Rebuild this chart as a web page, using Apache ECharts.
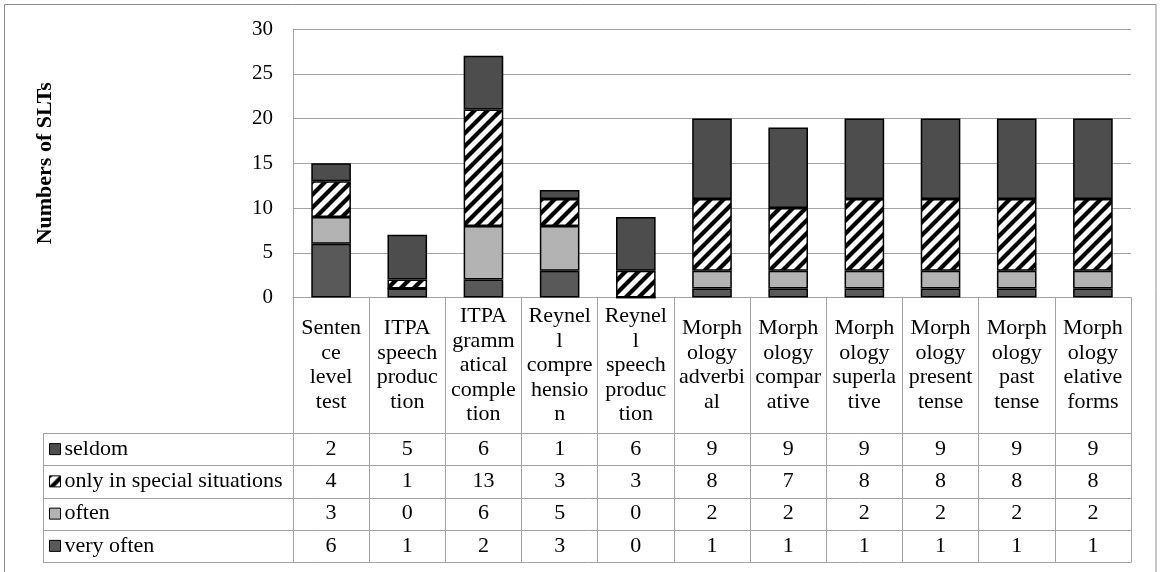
<!DOCTYPE html>
<html>
<head>
<meta charset="utf-8">
<script src="https://cdn.jsdelivr.net/npm/echarts@6/dist/echarts.min.js"></script>
<style>
  html, body { margin: 0; padding: 0; background: #fff; }
  #chart { width: 1160px; height: 572px; }
</style>
</head>
<body>
<div id="chart"></div>
<script>
// Category headers, as wrapped in the table cells
const categories = [
  'Senten\nce\nlevel\ntest',
  'ITPA\nspeech\nproduc\ntion',
  'ITPA\ngramm\natical\ncomple\ntion',
  'Reynel\nl\ncompre\nhensio\nn',
  'Reynel\nl\nspeech\nproduc\ntion',
  'Morph\nology\nadverbi\nal',
  'Morph\nology\ncompar\native',
  'Morph\nology\nsuperla\ntive',
  'Morph\nology\npresent\ntense',
  'Morph\nology\npast\ntense',
  'Morph\nology\nelative\nforms'
];

// Series values (counts of SLTs)
const veryOften = [6, 1, 2, 3, 0, 1, 1, 1, 1, 1, 1];
const often     = [3, 0, 6, 5, 0, 2, 2, 2, 2, 2, 2];
const special   = [4, 1, 13, 3, 3, 8, 7, 8, 8, 8, 8];
const seldom    = [2, 5, 6, 1, 6, 9, 9, 9, 9, 9, 9];

const seriesNames = ['very often', 'often', 'only in special situations', 'seldom'];
// Table rows, top to bottom
const tableRows = [
  { name: 'seldom', values: seldom },
  { name: 'only in special situations', values: special },
  { name: 'often', values: often },
  { name: 'very often', values: veryOften }
];

const yTicks = { min: 0, max: 30, step: 5 };

const FONT = "'Liberation Serif', 'Times New Roman', serif";
const GRID_COLOR = '#a3a3a3';
const TABLE_FONT = 22;

// Diagonal hatch used for "only in special situations"
function makeHatch() {
  const s = 13;
  const c = document.createElement('canvas');
  c.width = s; c.height = s;
  const g = c.getContext('2d');
  g.fillStyle = '#fff';
  g.fillRect(0, 0, s, s);
  g.strokeStyle = '#000';
  g.lineWidth = 4.2;
  for (let k = -1; k <= 1; k++) {
    g.beginPath();
    g.moveTo(k * s - 2, s + 2);
    g.lineTo(k * s + s + 2, -2);
    g.stroke();
  }
  return c;
}
const hatch = makeHatch();

const colors = {
  'very often': '#595959',
  'often': '#b3b3b3',
  'only in special situations': { image: hatch, repeat: 'repeat' },
  'seldom': '#4d4d4d'
};
const seriesData = {
  'very often': veryOften,
  'often': often,
  'only in special situations': special,
  'seldom': seldom
};

// Layout of the plot and the table beneath it
const GRID = { left: 293, top: 29, width: 838, height: 268.5 };
const AXIS_Y = GRID.top + GRID.height;      // zero line
const HEADER_H = 135.5;                     // header row height
const ROW_H = 32.25;                        // data row height
const TABLE_TOP = AXIS_Y + HEADER_H;
const LEGEND_X = 43;
const TABLE_RIGHT = GRID.left + GRID.width;

const chart = echarts.init(document.getElementById('chart'), null, { renderer: 'canvas' });

// Main category axis: headers + vertical table lines (ticks at category bounds)
const xAxes = [{
  type: 'category',
  data: categories,
  gridIndex: 0,
  position: 'bottom',
  axisLine: { show: true, onZero: false, lineStyle: { color: GRID_COLOR, width: 1 } },
  axisTick: {
    show: true, interval: 0, inside: false,
    length: HEADER_H + ROW_H * 4,
    lineStyle: { color: GRID_COLOR, width: 1 }
  },
  axisLabel: {
    interval: 0, hideOverlap: false,
    margin: HEADER_H / 2,
    verticalAlign: 'middle',
    align: 'center',
    color: '#000',
    fontFamily: FONT,
    fontSize: TABLE_FONT,
    lineHeight: 24.5
  },
  splitLine: { show: false }
}];

// One extra axis per table row, labelling each cell with its value
tableRows.forEach((row, r) => {
  xAxes.push({
    type: 'category',
    data: categories,
    gridIndex: 0,
    position: 'bottom',
    axisLine: { show: false, onZero: false },
    axisTick: { show: false },
    splitLine: { show: false },
    axisLabel: {
      interval: 0, hideOverlap: false,
      margin: HEADER_H + ROW_H * r + ROW_H / 2,
      verticalAlign: 'middle',
      align: 'center',
      color: '#000',
      fontFamily: FONT,
      fontSize: TABLE_FONT,
      formatter: (v, i) => String(row.values[i])
    }
  });
});

// Horizontal table lines and the row-label column
const graphics = [];
for (let r = 0; r <= 4; r++) {
  const y = Math.round(TABLE_TOP + ROW_H * r) + 0.5;
  graphics.push({
    type: 'line',
    shape: { x1: LEGEND_X, y1: y, x2: TABLE_RIGHT + 0.5, y2: y },
    style: { stroke: GRID_COLOR, lineWidth: 1 },
    silent: true
  });
}
graphics.push({
  type: 'line',
  shape: { x1: LEGEND_X + 0.5, y1: Math.round(TABLE_TOP) + 0.5, x2: LEGEND_X + 0.5, y2: Math.round(TABLE_TOP + ROW_H * 4) + 0.5 },
  style: { stroke: GRID_COLOR, lineWidth: 1 },
  silent: true
});
// Outer chart frame
graphics.push({
  type: 'rect',
  shape: { x: 4.5, y: 4.5, width: 1151.5, height: 600 },
  style: { fill: 'none', stroke: '#8c8c8c', lineWidth: 1 },
  silent: true
});

const option = {
  animation: false,
  backgroundColor: '#fff',
  grid: { left: GRID.left, top: GRID.top, width: GRID.width, height: GRID.height, containLabel: false },
  legend: {
    orient: 'vertical',
    left: LEGEND_X + 6,
    top: TABLE_TOP + ROW_H / 2 - 11,
    padding: 0,
    itemGap: ROW_H - 22,
    itemWidth: 11,
    itemHeight: 11,
    icon: 'rect',
    selectedMode: false,
    data: tableRows.map(r => r.name),
    itemStyle: { borderColor: '#000', borderWidth: 1 },
    textStyle: { color: '#000', fontFamily: FONT, fontSize: TABLE_FONT, lineHeight: 22, padding: [0, 0, 0, -1] }
  },
  xAxis: xAxes,
  yAxis: {
    type: 'value',
    min: yTicks.min,
    max: yTicks.max,
    interval: yTicks.step,
    name: 'Numbers of SLTs',
    nameLocation: 'middle',
    nameRotate: 90,
    nameGap: 237,
    nameTextStyle: { color: '#000', fontFamily: FONT, fontSize: 22, fontWeight: 'bold' },
    axisLine: { show: true, lineStyle: { color: GRID_COLOR, width: 1 } },
    axisTick: { show: false },
    axisLabel: { color: '#000', fontFamily: FONT, fontSize: 21, margin: 20 },
    splitLine: { show: true, lineStyle: { color: GRID_COLOR, width: 1 } }
  },
  series: seriesNames.map(name => ({
    name,
    type: 'bar',
    stack: 'total',
    xAxisIndex: 0,
    barWidth: '52%',
    data: seriesData[name],
    itemStyle: { color: colors[name], borderColor: '#000', borderWidth: 1.5 },
    emphasis: { disabled: true }
  })),
  graphic: graphics
};

chart.setOption(option);
</script>
</body>
</html>
